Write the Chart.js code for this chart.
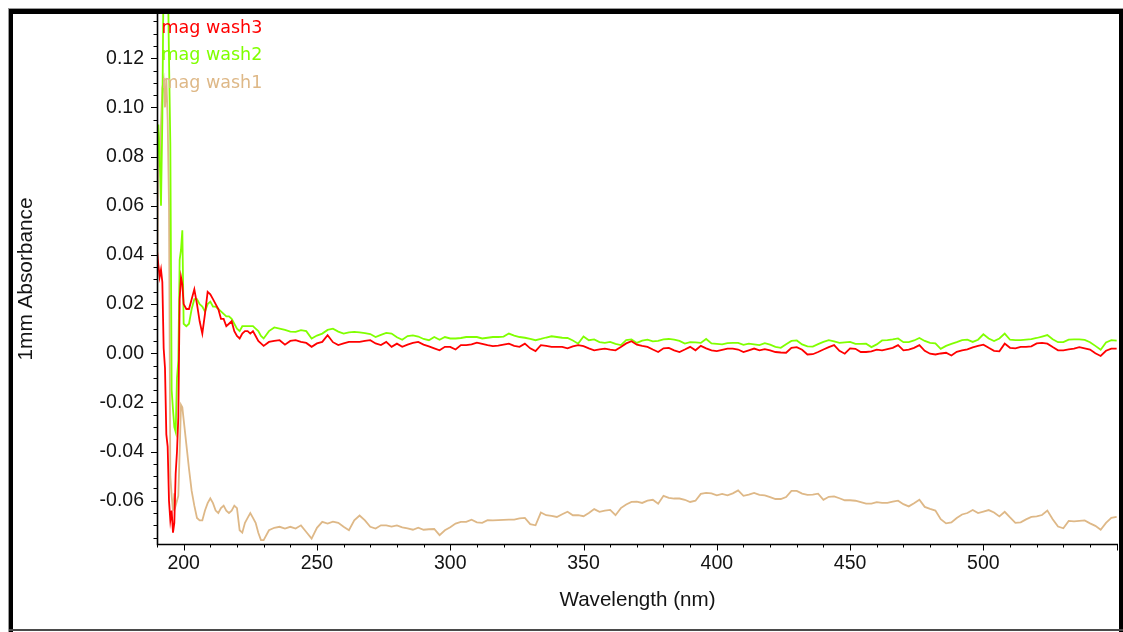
<!DOCTYPE html>
<html>
<head>
<meta charset="utf-8">
<title>mag wash spectra</title>
<script src="https://cdn.jsdelivr.net/npm/chart.js@4.4.0/dist/chart.umd.min.js"></script>
<style>
  html, body { margin: 0; padding: 0; background: #ffffff; overflow: hidden; }
  #wrap { position: relative; width: 1123px; height: 632px; }
  canvas { display: block; }
</style>
</head>
<body>
<div id="wrap"><canvas id="spectra" width="1123" height="632"></canvas></div>
<script>
// Wavelength grid (nm): 0.5 nm steps through the deep-UV spike, then 1 nm, then 2 nm.
const wavelength = [
  190, 190.5, 191, 191.5, 192, 192.5, 193, 193.5, 194, 194.5, 195, 195.5, 196, 196.5, 197, 197.5, 198, 198.5, 199, 199.5, 200,
  201, 202, 203, 204, 205, 206, 207, 208, 209, 210, 211, 212, 213, 214, 215, 216, 217, 218, 219, 220,
  221, 222, 223, 224, 225, 226, 227, 228, 229, 230,
  232, 234, 236, 238, 240, 242, 244, 246, 248, 250,
  252, 254, 256, 258, 260, 262, 264, 266, 268, 270,
  272, 274, 276, 278, 280, 282, 284, 286, 288, 290,
  292, 294, 296, 298, 300, 302, 304, 306, 308, 310,
  312, 314, 316, 318, 320, 322, 324, 326, 328, 330,
  332, 334, 336, 338, 340, 342, 344, 346, 348, 350,
  352, 354, 356, 358, 360, 362, 364, 366, 368, 370,
  372, 374, 376, 378, 380, 382, 384, 386, 388, 390,
  392, 394, 396, 398, 400, 402, 404, 406, 408, 410,
  412, 414, 416, 418, 420, 422, 424, 426, 428, 430,
  432, 434, 436, 438, 440, 442, 444, 446, 448, 450,
  452, 454, 456, 458, 460, 462, 464, 466, 468, 470,
  472, 474, 476, 478, 480, 482, 484, 486, 488, 490,
  492, 494, 496, 498, 500, 502, 504, 506, 508, 510,
  512, 514, 516, 518, 520, 522, 524, 526, 528, 530,
  532, 534, 536, 538, 540, 542, 544, 546, 548, 550
];

// 1 mm absorbance, third wash
const magWash3 = [
  0.042, 0.036, 0.031, 0.034, 0.029, 0.002, -0.006, -0.033, -0.038, -0.060, -0.068, -0.064, -0.073, -0.069, -0.049, -0.040, -0.026, 0.022, 0.031, 0.028, 0.020,
  0.018, 0.018, 0.022, 0.026, 0.020, 0.013, 0.008, 0.016, 0.025, 0.024, 0.022, 0.020, 0.018, 0.014, 0.014, 0.011, 0.012, 0.013, 0.009, 0.007,
  0.006, 0.008, 0.009, 0.009, 0.008, 0.009, 0.007, 0.005, 0.004, 0.003,
  0.0046, 0.0050, 0.0053, 0.0035, 0.0050, 0.0053, 0.0046, 0.0042, 0.0026, 0.0040,
  0.0046, 0.0073, 0.0045, 0.0033, 0.0040, 0.0046, 0.0046, 0.0046, 0.0050, 0.0053,
  0.0040, 0.0033, 0.0046, 0.0026, 0.0039, 0.0026, 0.0035, 0.0042, 0.0046, 0.0035,
  0.0028, 0.0020, 0.0012, 0.0026, 0.0026, 0.0015, 0.0033, 0.0033, 0.0036, 0.0043,
  0.0038, 0.0033, 0.0029, 0.0031, 0.0035, 0.0039, 0.0030, 0.0026, 0.0039, 0.0020,
  0.0009, 0.0033, 0.0030, 0.0026, 0.0026, 0.0026, 0.0020, 0.0028, 0.0033, 0.0029,
  0.0020, 0.0012, 0.0016, 0.0019, 0.0015, 0.0012, 0.0025, 0.0040, 0.0049, 0.0035,
  0.0030, 0.0026, 0.0015, 0.0005, 0.0020, 0.0022, 0.0012, 0.0005, 0.0015, 0.0026,
  0.0012, 0.0030, 0.0020, 0.0012, 0.0009, 0.0014, 0.0019, 0.0019, 0.0015, 0.0005,
  0.0012, 0.0019, 0.0012, 0.0017, 0.0012, 0.0005, 0.0003, 0.0002, 0.0022, 0.0025,
  0.0014, -0.0005, -0.0004, 0.0005, 0.0015, 0.0025, 0.0033, 0.0010, -0.0002, 0.0020,
  0.0018, 0.0005, 0.0005, 0.0008, 0.0015, 0.0012, 0.0017, 0.0022, 0.0033, 0.0012,
  0.0015, 0.0022, 0.0033, 0.0010, -0.0002, -0.0005, -0.0001, 0.0002, -0.0009, 0.0006,
  0.0012, 0.0016, 0.0024, 0.0030, 0.0035, 0.0022, 0.0010, 0.0008, 0.0039, 0.0022,
  0.0020, 0.0026, 0.0026, 0.0028, 0.0040, 0.0042, 0.0039, 0.0025, 0.0012, 0.0012,
  0.0016, 0.0019, 0.0025, 0.0020, 0.0015, 0.0000, -0.0011, 0.0010, 0.0019, 0.0019
];

// 1 mm absorbance, second wash
const magWash2 = [
  0.072, 0.093, 0.080, 0.060, 0.095, 0.160, 0.170, 0.150, 0.160, 0.120, 0.085, -0.015, -0.023, -0.030, -0.032, -0.010, -0.003, 0.038, 0.042, 0.050, 0.012,
  0.011, 0.012, 0.018, 0.022, 0.022, 0.020, 0.019, 0.017, 0.020, 0.021, 0.019, 0.019, 0.018, 0.017, 0.016, 0.015, 0.015, 0.014, 0.012, 0.010,
  0.009, 0.011, 0.011, 0.011, 0.011, 0.011, 0.010, 0.009, 0.007, 0.006,
  0.0090, 0.0105, 0.0100, 0.0095, 0.0088, 0.0087, 0.0094, 0.0090, 0.0060, 0.0072,
  0.0080, 0.0095, 0.0100, 0.0088, 0.0080, 0.0085, 0.0087, 0.0085, 0.0082, 0.0078,
  0.0066, 0.0075, 0.0083, 0.0080, 0.0065, 0.0055, 0.0070, 0.0073, 0.0068, 0.0058,
  0.0053, 0.0066, 0.0055, 0.0066, 0.0060, 0.0060, 0.0062, 0.0066, 0.0066, 0.0066,
  0.0060, 0.0063, 0.0066, 0.0066, 0.0068, 0.0080, 0.0072, 0.0066, 0.0063, 0.0058,
  0.0053, 0.0058, 0.0064, 0.0069, 0.0066, 0.0063, 0.0062, 0.0052, 0.0039, 0.0068,
  0.0053, 0.0056, 0.0045, 0.0042, 0.0046, 0.0038, 0.0033, 0.0053, 0.0056, 0.0042,
  0.0051, 0.0055, 0.0048, 0.0050, 0.0056, 0.0058, 0.0055, 0.0050, 0.0039, 0.0045,
  0.0044, 0.0042, 0.0058, 0.0040, 0.0038, 0.0036, 0.0041, 0.0042, 0.0042, 0.0034,
  0.0039, 0.0036, 0.0033, 0.0041, 0.0035, 0.0026, 0.0022, 0.0037, 0.0050, 0.0052,
  0.0036, 0.0028, 0.0027, 0.0037, 0.0046, 0.0053, 0.0048, 0.0042, 0.0044, 0.0046,
  0.0038, 0.0038, 0.0039, 0.0025, 0.0036, 0.0052, 0.0053, 0.0056, 0.0060, 0.0045,
  0.0045, 0.0052, 0.0062, 0.0050, 0.0042, 0.0040, 0.0018, 0.0030, 0.0038, 0.0045,
  0.0053, 0.0055, 0.0046, 0.0055, 0.0077, 0.0060, 0.0050, 0.0060, 0.0080, 0.0055,
  0.0053, 0.0053, 0.0055, 0.0057, 0.0062, 0.0068, 0.0074, 0.0057, 0.0045, 0.0045,
  0.0055, 0.0056, 0.0056, 0.0054, 0.0045, 0.0030, 0.0014, 0.0044, 0.0053, 0.0051
];

// 1 mm absorbance, first wash
const magWash1 = [
  0.010, 0.090, 0.076, 0.093, 0.108, 0.111, 0.100, 0.112, 0.095, 0.060, -0.050, -0.058, -0.064, -0.057, -0.062, -0.060, -0.058, -0.040, -0.021, -0.022, -0.027,
  -0.037, -0.047, -0.056, -0.062, -0.067, -0.068, -0.068, -0.064, -0.061, -0.059, -0.061, -0.064, -0.065, -0.063, -0.062, -0.064, -0.065, -0.064, -0.062, -0.063,
  -0.072, -0.073, -0.069, -0.067, -0.065, -0.067, -0.069, -0.073, -0.076, -0.076,
  -0.0720, -0.0710, -0.0706, -0.0713, -0.0706, -0.0713, -0.0700, -0.0727, -0.0754, -0.0710,
  -0.0686, -0.0693, -0.0685, -0.0690, -0.0706, -0.0720, -0.0680, -0.0660, -0.0680, -0.0706,
  -0.0713, -0.0700, -0.0700, -0.0705, -0.0700, -0.0708, -0.0712, -0.0718, -0.0710, -0.0718,
  -0.0716, -0.0715, -0.0740, -0.0720, -0.0708, -0.0693, -0.0686, -0.0686, -0.0677, -0.0688,
  -0.0690, -0.0679, -0.0680, -0.0679, -0.0678, -0.0677, -0.0677, -0.0672, -0.0670, -0.0695,
  -0.0700, -0.0648, -0.0659, -0.0662, -0.0666, -0.0655, -0.0645, -0.0659, -0.0659, -0.0663,
  -0.0650, -0.0634, -0.0645, -0.0640, -0.0637, -0.0659, -0.0630, -0.0615, -0.0605, -0.0604,
  -0.0609, -0.0600, -0.0596, -0.0612, -0.0580, -0.0588, -0.0591, -0.0591, -0.0596, -0.0605,
  -0.0600, -0.0572, -0.0568, -0.0570, -0.0578, -0.0572, -0.0578, -0.0570, -0.0558, -0.0580,
  -0.0575, -0.0568, -0.0576, -0.0578, -0.0585, -0.0593, -0.0593, -0.0585, -0.0560, -0.0560,
  -0.0571, -0.0576, -0.0575, -0.0571, -0.0596, -0.0584, -0.0582, -0.0590, -0.0598, -0.0598,
  -0.0600, -0.0606, -0.0612, -0.0612, -0.0606, -0.0609, -0.0609, -0.0604, -0.0600, -0.0614,
  -0.0623, -0.0610, -0.0596, -0.0625, -0.0633, -0.0640, -0.0675, -0.0692, -0.0688, -0.0670,
  -0.0656, -0.0650, -0.0638, -0.0650, -0.0644, -0.0638, -0.0648, -0.0664, -0.0645, -0.0668,
  -0.0690, -0.0688, -0.0676, -0.0666, -0.0664, -0.0658, -0.0640, -0.0675, -0.0705, -0.0712,
  -0.0682, -0.0684, -0.0682, -0.0680, -0.0692, -0.0702, -0.0718, -0.0690, -0.0670, -0.0666
];

const seriesNames = ['mag wash3', 'mag wash2', 'mag wash1'];
const seriesColors = ['#ff0000', '#80ff00', '#deb887'];
const xTickValues = [200, 250, 300, 350, 400, 450, 500];
const yTickValues = [-0.06, -0.04, -0.02, 0.00, 0.02, 0.04, 0.06, 0.08, 0.10, 0.12];

const X_MIN = 190, X_MAX = 550.5, X_MINOR = 10;
const Y_MIN = -0.0776, Y_MAX = 0.138, Y_MINOR = 0.005;

const AXIS_FONT = "'Liberation Sans', Arial, sans-serif";
const LEGEND_FONT = "'DejaVu Sans', Verdana, sans-serif";

function toPoints(values) {
  return wavelength.map((w, i) => ({ x: w, y: values[i] }));
}

// Tick marks, axis lines, in-plot legend and the window frame
const decorations = {
  id: 'decorations',
  afterDatasetsDraw(chart) {
    const { ctx, chartArea: a, scales: { x, y } } = chart;
    ctx.save();
    ctx.strokeStyle = '#000';
    ctx.lineWidth = 1;

    // y ticks: minor every 0.005, major every 0.02
    ctx.beginPath();
    const yStart = Math.ceil(Y_MIN / Y_MINOR);
    const yEnd = Math.floor(Y_MAX / Y_MINOR);
    for (let k = yStart; k <= yEnd; k++) {
      const v = k * Y_MINOR;
      const py = Math.round(y.getPixelForValue(v)) + 0.5;
      const major = k % 4 === 0;
      ctx.moveTo(a.left, py);
      ctx.lineTo(a.left - (major ? 6 : 3.5), py);
    }
    // x ticks: minor every 10 nm, major every 50 nm
    const xStart = Math.ceil(X_MIN / X_MINOR);
    const xEnd = Math.floor(X_MAX / X_MINOR);
    for (let k = xStart; k <= xEnd; k++) {
      const v = k * X_MINOR;
      const px = Math.round(x.getPixelForValue(v)) + 0.5;
      const major = v % 50 === 0;
      ctx.moveTo(px, a.bottom);
      ctx.lineTo(px, a.bottom + (major ? 6.5 : 3.5));
    }
    ctx.stroke();

    // axis lines
    ctx.lineWidth = 1.6;
    ctx.beginPath();
    ctx.moveTo(a.left + 0.5, a.top);
    ctx.lineTo(a.left + 0.5, a.bottom + 0.5);
    ctx.lineTo(a.right, a.bottom + 0.5);
    ctx.stroke();

    // legend text in the top-left corner of the plot
    ctx.font = '17.5px ' + LEGEND_FONT;
    ctx.textAlign = 'left';
    ctx.textBaseline = 'alphabetic';
    const baselines = [32.5, 60, 87.5];
    seriesNames.forEach((name, i) => {
      ctx.fillStyle = seriesColors[i];
      ctx.fillText(name, a.left + 4.5, baselines[i]);
    });
    ctx.restore();
  },
  afterDraw(chart) {
    const { ctx, width, height } = chart;
    ctx.save();
    ctx.fillStyle = '#9a9a9a';
    ctx.fillRect(8, 8, width - 8, 1);
    ctx.fillRect(8, 8, 1, height - 8);
    ctx.fillStyle = '#000';
    ctx.fillRect(9, 9, width - 9, 5);
    ctx.fillRect(9, 9, 4, height - 9);
    ctx.fillRect(width - 4, 9, 4, height - 9);
    ctx.fillStyle = '#4a4a4a';
    ctx.fillRect(9, 629, width - 9, 2);
    ctx.restore();
  }
};

const datasets = [magWash3, magWash2, magWash1].map((values, i) => ({
  label: seriesNames[i],
  data: toPoints(values),
  borderColor: seriesColors[i],
  backgroundColor: seriesColors[i],
  borderWidth: 1.8,
  pointRadius: 0,
  pointHoverRadius: 0,
  tension: 0,
  fill: false,
  clip: 0
}));

new Chart(document.getElementById('spectra'), {
  type: 'line',
  data: { datasets },
  plugins: [decorations],
  options: {
    responsive: false,
    animation: false,
    devicePixelRatio: 1,
    events: [],
    layout: { padding: { left: 10, top: 14, right: 5, bottom: 0 } },
    plugins: {
      legend: { display: false },
      tooltip: { enabled: false },
      title: { display: false }
    },
    scales: {
      x: {
        type: 'linear',
        min: X_MIN,
        max: X_MAX,
        afterBuildTicks: (scale) => { scale.ticks = xTickValues.map(v => ({ value: v })); },
        afterFit: (scale) => {
          scale.height = 88;
          scale.paddingLeft = 0;
          scale.paddingRight = 0;
        },
        grid: { display: false, drawTicks: false },
        border: { display: false },
        ticks: {
          autoSkip: false,
          maxRotation: 0,
          padding: 8,
          color: '#141414',
          font: { family: AXIS_FONT, size: 19.5 },
          callback: (v) => String(v)
        },
        title: {
          display: true,
          text: 'Wavelength (nm)',
          color: '#141414',
          font: { family: AXIS_FONT, size: 20.6 },
          padding: { top: 0, bottom: 19 }
        }
      },
      y: {
        type: 'linear',
        min: Y_MIN,
        max: Y_MAX,
        afterBuildTicks: (scale) => { scale.ticks = yTickValues.map(v => ({ value: v })); },
        afterFit: (scale) => {
          scale.width = 147;
          scale.paddingTop = 0;
          scale.paddingBottom = 0;
        },
        grid: { display: false, drawTicks: false },
        border: { display: false },
        ticks: {
          autoSkip: false,
          padding: 13,
          color: '#141414',
          font: { family: AXIS_FONT, size: 19.5 },
          callback: (v) => Number(v).toFixed(2)
        },
        title: {
          display: true,
          text: '1mm Absorbance',
          color: '#141414',
          font: { family: AXIS_FONT, size: 20.8 },
          padding: { top: 3.5, bottom: 0 }
        }
      }
    }
  }
});
</script>
</body>
</html>
